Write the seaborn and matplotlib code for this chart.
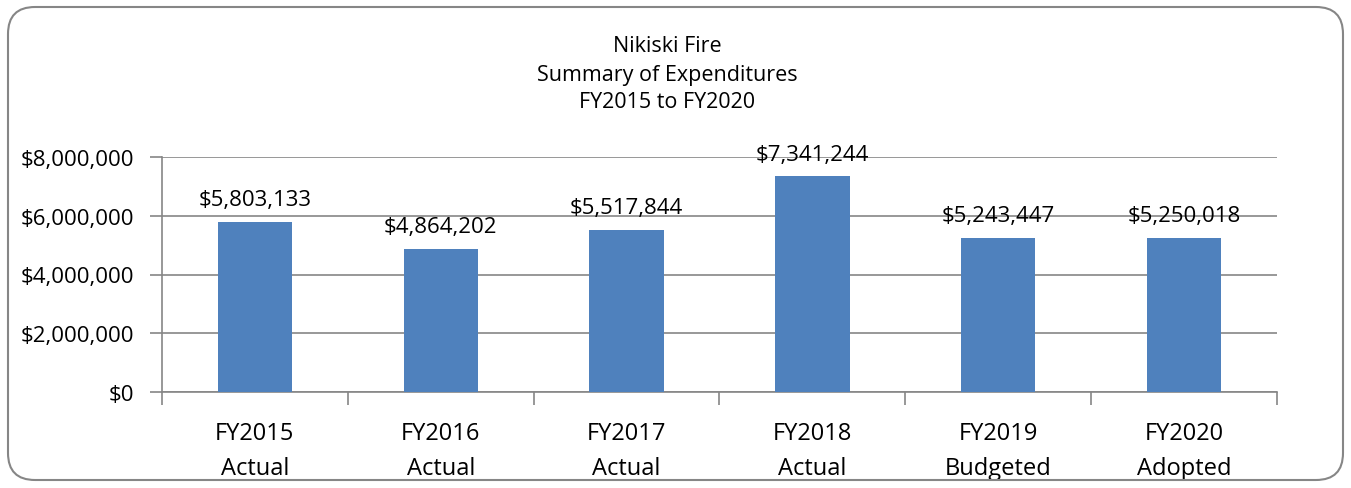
import numpy as np
import pandas as pd
import matplotlib.pyplot as plt
import seaborn as sns
from matplotlib.patches import FancyBboxPatch
from matplotlib.ticker import FuncFormatter, FixedLocator

# Data
years = ["FY2015", "FY2016", "FY2017", "FY2018", "FY2019", "FY2020"]
status = ["Actual", "Actual", "Actual", "Actual", "Budgeted", "Adopted"]
expenditures = [5803133, 4864202, 5517844, 7341244, 5243447, 5250018]

labels = [f"{y}\n{s}" for y, s in zip(years, status)]
df = pd.DataFrame({"label": labels, "amount": expenditures})

sns.set_style("white")
plt.rcParams['font.family'] = ['Open Sans', 'DejaVu Sans']
plt.rcParams['text.color'] = 'black'
plt.rcParams['xtick.color'] = 'black'
plt.rcParams['ytick.color'] = 'black'

fig = plt.figure(figsize=(13.51, 4.89), dpi=100)
ax = fig.add_axes([162 / 1351, 96 / 489, 1115 / 1351, 235 / 489])

sns.barplot(x="label", y="amount", data=df, ax=ax, color="#4F81BD",
            width=0.40, saturation=1, linewidth=0, zorder=3)

ax.set_ylim(0, 8000000)
ax.set_xlim(-0.5, 5.5)
ax.set_yticks([0, 2000000, 4000000, 6000000, 8000000])
ax.yaxis.set_major_formatter(FuncFormatter(lambda v, p: f"${v:,.0f}"))
ax.grid(axis="y", color="#868686", linewidth=1.2, zorder=0)
ax.set_xlabel("")
ax.set_ylabel("")

# category boundary ticks on x axis
ax.xaxis.set_minor_locator(FixedLocator(np.arange(-0.5, 6, 1)))
ax.tick_params(axis="x", which="major", bottom=True, length=0, labelsize=17, pad=21)
ax.tick_params(axis="x", which="minor", bottom=True, length=9, width=1.2,
               color="#868686", direction="out")
ax.tick_params(axis="y", left=True, length=9, width=1.2, color="#868686",
               labelcolor="black", direction="out", labelsize=16, pad=11)
for lbl in ax.get_xticklabels():
    lbl.set_linespacing(1.62)

for side in ["top", "right"]:
    ax.spines[side].set_visible(False)
for side in ["left", "bottom"]:
    ax.spines[side].set_color("#868686")
    ax.spines[side].set_linewidth(1.2)

for i, v in enumerate(expenditures):
    ax.text(i, v + 400000, f"${v:,.0f}", ha="center", va="bottom", fontsize=16)

# title
fig.text(0.494, 442 / 489, "Nikiski Fire", ha="center", va="center", fontsize=15.5)
fig.text(0.494, 414 / 489, "Summary of Expenditures", ha="center", va="center", fontsize=15.5)
fig.text(0.494, 386 / 489, "FY2015 to FY2020", ha="center", va="center", fontsize=15.5)

# rounded border
border = FancyBboxPatch((8 / 1351, 8 / 489), 1335 / 1351, 473 / 489,
                        boxstyle="round,pad=0,rounding_size=0.02",
                        transform=fig.transFigure, fill=False,
                        edgecolor="#868686", linewidth=1.5, mutation_aspect=1351 / 489)
fig.patches.append(border)

fig.savefig("out.png", dpi=100)
